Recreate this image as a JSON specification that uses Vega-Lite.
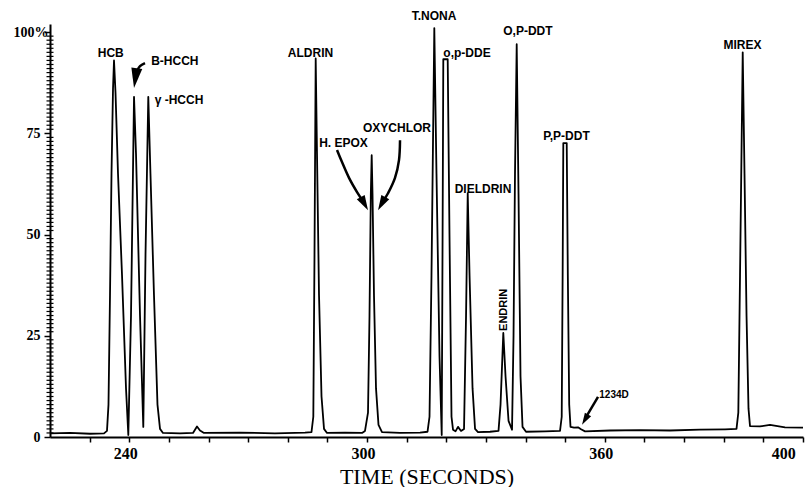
{
  "$schema": "https://vega.github.io/schema/vega-lite/v6.json",
  "width": 753,
  "height": 413,
  "autosize": "none",
  "padding": {"left": 50, "top": 24, "right": 2, "bottom": 50},
  "background": "white",
  "config": {"view": {"stroke": null}},
  "datasets": {
    "trace": [
      {"t": 220.0, "v": 0.9}, {"t": 225.05, "v": 1.0}, {"t": 230.09, "v": 0.8}, {"t": 233.63, "v": 0.9},
      {"t": 234.38, "v": 1.5}, {"t": 234.76, "v": 8}, {"t": 235.14, "v": 35}, {"t": 235.52, "v": 65},
      {"t": 235.9, "v": 86}, {"t": 236.15, "v": 93}, {"t": 236.53, "v": 85}, {"t": 237.16, "v": 65},
      {"t": 238.17, "v": 40}, {"t": 239.18, "v": 12}, {"t": 239.76, "v": 0.5},
      {"t": 240.44, "v": 30}, {"t": 241.2, "v": 84}, {"t": 241.7, "v": 70}, {"t": 242.71, "v": 30}, {"t": 243.54, "v": 2.5},
      {"t": 244.1, "v": 45}, {"t": 244.8, "v": 84}, {"t": 245.35, "v": 65}, {"t": 246.24, "v": 35},
      {"t": 247.12, "v": 8}, {"t": 247.76, "v": 2}, {"t": 248.51, "v": 1.0}, {"t": 252.8, "v": 0.9},
      {"t": 256.08, "v": 1.0}, {"t": 257.09, "v": 2.6}, {"t": 257.85, "v": 1.6}, {"t": 258.86, "v": 1.0},
      {"t": 267.94, "v": 1.1}, {"t": 276.77, "v": 0.9}, {"t": 284.34, "v": 1.1}, {"t": 285.98, "v": 1.2},
      {"t": 286.44, "v": 5}, {"t": 286.74, "v": 45}, {"t": 287.04, "v": 93.5}, {"t": 287.37, "v": 70},
      {"t": 287.88, "v": 35}, {"t": 288.51, "v": 10}, {"t": 289.14, "v": 2}, {"t": 289.9, "v": 1.0},
      {"t": 294.44, "v": 1.1}, {"t": 298.73, "v": 1.0},
      {"t": 299.48, "v": 1.5}, {"t": 300.24, "v": 6}, {"t": 300.62, "v": 30}, {"t": 300.95, "v": 60},
      {"t": 301.17, "v": 69.6}, {"t": 301.38, "v": 60}, {"t": 301.75, "v": 35}, {"t": 302.26, "v": 12},
      {"t": 302.89, "v": 3}, {"t": 303.77, "v": 1.2},
      {"t": 308.32, "v": 1.0}, {"t": 313.36, "v": 1.1}, {"t": 315.26, "v": 1.3},
      {"t": 315.76, "v": 5}, {"t": 316.26, "v": 40}, {"t": 316.97, "v": 101}, {"t": 317.52, "v": 65},
      {"t": 318.28, "v": 20}, {"t": 318.84, "v": 0.5},
      {"t": 319.06, "v": 50}, {"t": 319.24, "v": 93.3}, {"t": 320.35, "v": 93.3}, {"t": 320.8, "v": 50},
      {"t": 321.31, "v": 5}, {"t": 321.69, "v": 1.8}, {"t": 322.32, "v": 1.4}, {"t": 322.95, "v": 2.5}, {"t": 323.71, "v": 1.5},
      {"t": 324.47, "v": 2}, {"t": 324.98, "v": 30}, {"t": 325.4, "v": 60.2}, {"t": 325.86, "v": 40},
      {"t": 326.62, "v": 12}, {"t": 327.25, "v": 2}, {"t": 328.0, "v": 1.2},
      {"t": 331.03, "v": 1.3}, {"t": 333.17, "v": 1.5},
      {"t": 333.68, "v": 8}, {"t": 334.38, "v": 25.7}, {"t": 334.94, "v": 15}, {"t": 335.7, "v": 4}, {"t": 336.58, "v": 1.8},
      {"t": 336.96, "v": 25}, {"t": 337.33, "v": 65}, {"t": 337.76, "v": 97}, {"t": 338.22, "v": 60},
      {"t": 338.72, "v": 15}, {"t": 339.23, "v": 2.5}, {"t": 340.11, "v": 1.3},
      {"t": 344.9, "v": 1.4}, {"t": 348.69, "v": 1.5},
      {"t": 349.12, "v": 5}, {"t": 349.35, "v": 40}, {"t": 349.52, "v": 72.6}, {"t": 350.38, "v": 72.6},
      {"t": 350.66, "v": 40}, {"t": 351.01, "v": 8}, {"t": 351.34, "v": 2.5},
      {"t": 352.23, "v": 2.3}, {"t": 353.23, "v": 2.4}, {"t": 353.99, "v": 1.9}, {"t": 355.0, "v": 1.4},
      {"t": 361.3, "v": 1.6}, {"t": 368.87, "v": 1.7}, {"t": 376.44, "v": 1.6}, {"t": 384.01, "v": 1.8},
      {"t": 390.32, "v": 1.9}, {"t": 393.22, "v": 2.0},
      {"t": 393.68, "v": 6}, {"t": 394.11, "v": 40}, {"t": 394.79, "v": 95}, {"t": 395.24, "v": 65},
      {"t": 395.75, "v": 30}, {"t": 396.25, "v": 7}, {"t": 396.63, "v": 2.7},
      {"t": 399.15, "v": 2.6}, {"t": 401.68, "v": 3.0}, {"t": 405.46, "v": 2.4}, {"t": 410.0, "v": 2.3}
    ],
    "minor": [
      {"v": 1}, {"v": 2}, {"v": 3}, {"v": 4}, {"v": 5}, {"v": 6}, {"v": 7}, {"v": 8}, {"v": 9}, {"v": 10},
      {"v": 11}, {"v": 12}, {"v": 13}, {"v": 14}, {"v": 15}, {"v": 16}, {"v": 17}, {"v": 18}, {"v": 19}, {"v": 20},
      {"v": 21}, {"v": 22}, {"v": 23}, {"v": 24}, {"v": 26}, {"v": 27}, {"v": 28}, {"v": 29}, {"v": 30},
      {"v": 31}, {"v": 32}, {"v": 33}, {"v": 34}, {"v": 35}, {"v": 36}, {"v": 37}, {"v": 38}, {"v": 39}, {"v": 40},
      {"v": 41}, {"v": 42}, {"v": 43}, {"v": 44}, {"v": 45}, {"v": 46}, {"v": 47}, {"v": 48}, {"v": 49},
      {"v": 51}, {"v": 52}, {"v": 53}, {"v": 54}, {"v": 55}, {"v": 56}, {"v": 57}, {"v": 58}, {"v": 59}, {"v": 60},
      {"v": 61}, {"v": 62}, {"v": 63}, {"v": 64}, {"v": 65}, {"v": 66}, {"v": 67}, {"v": 68}, {"v": 69}, {"v": 70},
      {"v": 71}, {"v": 72}, {"v": 73}, {"v": 74}, {"v": 76}, {"v": 77}, {"v": 78}, {"v": 79}, {"v": 80},
      {"v": 81}, {"v": 82}, {"v": 83}, {"v": 84}, {"v": 85}, {"v": 86}, {"v": 87}, {"v": 88}, {"v": 89}, {"v": 90},
      {"v": 91}, {"v": 92}, {"v": 93}, {"v": 94}, {"v": 95}, {"v": 96}, {"v": 97}, {"v": 98}, {"v": 99}
    ],
    "labels": [
      {"label": "HCB", "t": 235.32, "v": 94.8},
      {"label": "B-HCCH", "t": 251.5, "v": 92.8},
      {"label": "γ -HCCH", "t": 252.55, "v": 83.2},
      {"label": "ALDRIN", "t": 285.73, "v": 94.8},
      {"label": "H. EPOX", "t": 294.06, "v": 72.7},
      {"label": "OXYCHLOR", "t": 307.56, "v": 76.3},
      {"label": "T.NONA", "t": 316.9, "v": 103.95},
      {"label": "o,p-DDE", "t": 325.22, "v": 94.9},
      {"label": "O,P-DDT", "t": 340.6, "v": 100.2},
      {"label": "DIELDRIN", "t": 329.26, "v": 61.2},
      {"label": "P,P-DDT", "t": 350.33, "v": 74.3},
      {"label": "MIREX", "t": 394.74, "v": 96.7}
    ],
    "rotlabels": [
      {"label": "ENDRIN", "t": 334.56, "v": 31.4}
    ],
    "smalllabels": [
      {"label": "1234D", "t": 362.31, "v": 10.4}
    ],
    "arrows": [
      {"arrow": "B", "i": 0, "t": 243.97, "v": 92.35},
      {"arrow": "B", "i": 1, "t": 242.71, "v": 91.6},
      {"arrow": "B", "i": 2, "t": 241.95, "v": 90.4},
      {"arrow": "B", "i": 3, "t": 241.57, "v": 89.1},
      {"arrow": "HE", "i": 0, "t": 292.42, "v": 70.9},
      {"arrow": "HE", "i": 1, "t": 293.68, "v": 67.9},
      {"arrow": "HE", "i": 2, "t": 295.45, "v": 64.0},
      {"arrow": "HE", "i": 3, "t": 297.47, "v": 60.5},
      {"arrow": "HE", "i": 4, "t": 298.98, "v": 58.3},
      {"arrow": "OX", "i": 0, "t": 308.32, "v": 73.3},
      {"arrow": "OX", "i": 1, "t": 308.06, "v": 68.4},
      {"arrow": "OX", "i": 2, "t": 307.05, "v": 64.0},
      {"arrow": "OX", "i": 3, "t": 305.29, "v": 60.2},
      {"arrow": "OX", "i": 4, "t": 304.03, "v": 58.3},
      {"arrow": "D", "i": 0, "t": 358.28, "v": 9.9},
      {"arrow": "D", "i": 1, "t": 355.25, "v": 4.9}
    ],
    "heads": [
      {"arrow": "B", "t": 241.2, "v": 86.2},
      {"arrow": "HE", "t": 300.24, "v": 56.0},
      {"arrow": "OX", "t": 302.77, "v": 56.0},
      {"arrow": "D", "t": 354.24, "v": 3.0}
    ]
  },
  "layer": [
    {
      "data": {"name": "trace"},
      "mark": {"type": "line", "color": "black", "strokeWidth": 1.8, "strokeJoin": "round"},
      "encoding": {
        "x": {"field": "t", "type": "quantitative",
          "scale": {"domain": [220, 410], "nice": false, "zero": false},
          "axis": {
            "title": "TIME (SECONDS)",
            "values": [230, 240, 250, 260, 270, 280, 290, 300, 310, 320, 330, 340, 350, 360, 370, 380, 390, 400, 410],
            "labelExpr": "(datum.value == 240 || datum.value == 300 || datum.value == 360 || datum.value == 400) ? datum.label : ''",
            "grid": false, "tickSize": 5, "tickWidth": 1.5, "tickColor": "black",
            "domainColor": "black", "domainWidth": 2,
            "labelFont": "Liberation Serif", "labelFontWeight": "bold", "labelFontSize": 16, "labelColor": "black",
            "labelPadding": 3, "labelFlush": false, "labelOverlap": false,
            "labelOffset": {"condition": {"test": "datum.value == 400", "value": 20}, "value": -4},
            "titleFont": "Liberation Serif", "titleFontWeight": "normal", "titleFontSize": 22, "titleColor": "black",
            "titlePadding": 5
          }
        },
        "y": {"field": "v", "type": "quantitative",
          "scale": {"domain": [0, 102], "nice": false, "zero": false},
          "axis": {
            "orient": "left",
            "title": null,
            "values": [0, 25, 50, 75, 100],
            "labelExpr": "datum.value == 100 ? '100%' : datum.label",
            "grid": false,
            "tickSize": 6, "tickWidth": 1.5, "tickColor": "black",
            "domainColor": "black", "domainWidth": 2,
            "labelFont": "Liberation Serif", "labelFontWeight": "bold", "labelFontSize": 14, "labelColor": "black",
            "labelPadding": {"condition": {"test": "datum.value == 100", "value": -4}, "value": 4},
            "labelOverlap": false, "labelFlush": false
          }
        }
      }
    },
    {
      "data": {"name": "minor"},
      "mark": {"type": "tick", "orient": "horizontal", "color": "black", "size": 7, "thickness": 1.2, "opacity": 1},
      "encoding": {
        "x": {"datum": 220, "type": "quantitative"},
        "y": {"field": "v", "type": "quantitative"}
      }
    },
    {
      "mark": {"type": "rule", "color": "black", "strokeWidth": 2},
      "encoding": {
        "x": {"datum": 410, "type": "quantitative"},
        "y": {"datum": 0, "type": "quantitative"},
        "y2": {"datum": 101.5}
      }
    },
    {
      "data": {"name": "arrows"},
      "mark": {"type": "line", "color": "black", "strokeWidth": 2.5, "interpolate": "cardinal"},
      "encoding": {
        "x": {"field": "t", "type": "quantitative"},
        "y": {"field": "v", "type": "quantitative"},
        "detail": {"field": "arrow"},
        "order": {"field": "i", "type": "quantitative"}
      }
    },
    {
      "data": {"name": "heads"},
      "transform": [{"filter": "datum.arrow == 'B'"}],
      "mark": {"type": "point", "shape": "M0,0L-0.55,2L0.55,2Z", "filled": true, "color": "black", "opacity": 1, "size": 400, "angle": 188},
      "encoding": {"x": {"field": "t", "type": "quantitative"}, "y": {"field": "v", "type": "quantitative"}}
    },
    {
      "data": {"name": "heads"},
      "transform": [{"filter": "datum.arrow == 'HE'"}],
      "mark": {"type": "point", "shape": "M0,0L-0.6,2L0.6,2Z", "filled": true, "color": "black", "opacity": 1, "size": 225, "angle": 151},
      "encoding": {"x": {"field": "t", "type": "quantitative"}, "y": {"field": "v", "type": "quantitative"}}
    },
    {
      "data": {"name": "heads"},
      "transform": [{"filter": "datum.arrow == 'OX'"}],
      "mark": {"type": "point", "shape": "M0,0L-0.6,2L0.6,2Z", "filled": true, "color": "black", "opacity": 1, "size": 225, "angle": 209},
      "encoding": {"x": {"field": "t", "type": "quantitative"}, "y": {"field": "v", "type": "quantitative"}}
    },
    {
      "data": {"name": "heads"},
      "transform": [{"filter": "datum.arrow == 'D'"}],
      "mark": {"type": "point", "shape": "M0,0L-0.6,2L0.6,2Z", "filled": true, "color": "black", "opacity": 1, "size": 144, "angle": 210},
      "encoding": {"x": {"field": "t", "type": "quantitative"}, "y": {"field": "v", "type": "quantitative"}}
    },
    {
      "data": {"name": "labels"},
      "mark": {"type": "text", "font": "Liberation Sans", "fontWeight": "bold", "fontSize": 12, "color": "black", "align": "center", "baseline": "middle"},
      "encoding": {"x": {"field": "t", "type": "quantitative"}, "y": {"field": "v", "type": "quantitative"}, "text": {"field": "label"}}
    },
    {
      "data": {"name": "rotlabels"},
      "mark": {"type": "text", "font": "Liberation Sans", "fontWeight": "bold", "fontSize": 11, "color": "black", "align": "center", "baseline": "middle", "angle": 270},
      "encoding": {"x": {"field": "t", "type": "quantitative"}, "y": {"field": "v", "type": "quantitative"}, "text": {"field": "label"}}
    },
    {
      "data": {"name": "smalllabels"},
      "mark": {"type": "text", "font": "Liberation Sans", "fontWeight": "bold", "fontSize": 10, "color": "black", "align": "center", "baseline": "middle"},
      "encoding": {"x": {"field": "t", "type": "quantitative"}, "y": {"field": "v", "type": "quantitative"}, "text": {"field": "label"}}
    }
  ]
}
